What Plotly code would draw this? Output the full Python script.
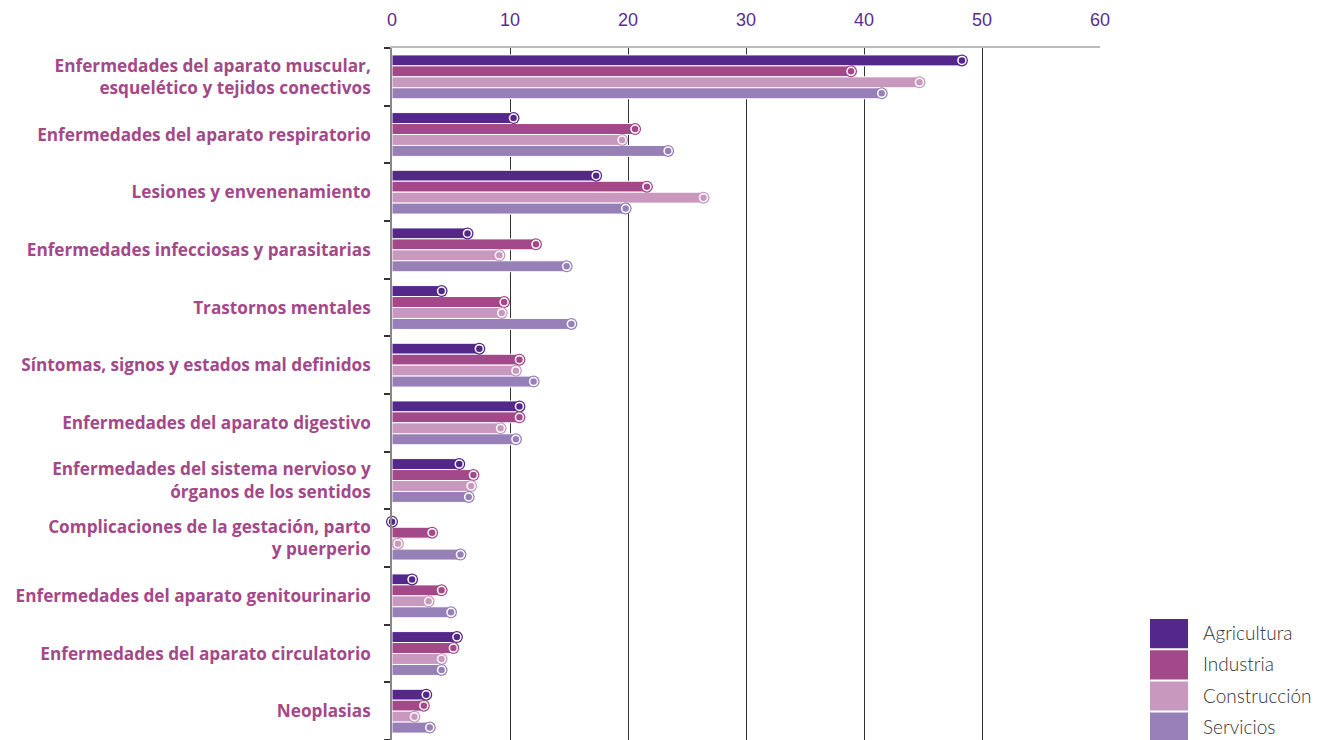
import plotly.graph_objects as go

categories = [
    "Enfermedades del aparato muscular,<br>esquelético y tejidos conectivos",
    "Enfermedades del aparato respiratorio",
    "Lesiones y envenenamiento",
    "Enfermedades infecciosas y parasitarias",
    "Trastornos mentales",
    "Síntomas, signos y estados mal definidos",
    "Enfermedades del aparato digestivo",
    "Enfermedades del sistema nervioso y<br>órganos de los sentidos",
    "Complicaciones de la gestación, parto<br>y puerperio",
    "Enfermedades del aparato genitourinario",
    "Enfermedades del aparato circulatorio",
    "Neoplasias",
]
series_names = ["Agricultura", "Industria", "Construcción", "Servicios"]
agricultura = [48.3, 10.3, 17.3, 6.4, 4.2, 7.4, 10.8, 5.7, 0.0, 1.7, 5.5, 2.9]
industria = [38.9, 20.6, 21.6, 12.2, 9.5, 10.8, 10.8, 6.9, 3.4, 4.2, 5.2, 2.7]
construccion = [44.7, 19.5, 26.4, 9.1, 9.3, 10.5, 9.2, 6.7, 0.5, 3.1, 4.2, 1.9]
servicios = [41.5, 23.4, 19.8, 14.8, 15.2, 12.0, 10.5, 6.5, 5.8, 5.0, 4.2, 3.2]
series_values = [agricultura, industria, construccion, servicios]
colors = ["#54288A", "#A3498A", "#C998BE", "#9780B8"]
x_ticks = [0, 10, 20, 30, 40, 50, 60]

# the page body has an 8px margin, so figure coordinates = screen - 8
OFF = 8
FIG_W, FIG_H = 1322 - OFF, 740 - OFF

n = len(categories)
pos = list(range(n))
w = 0.19
fig = go.Figure()

for k, (name, vals, col) in enumerate(zip(series_names, series_values, colors)):
    off = -2 * w + k * w
    fig.add_trace(go.Bar(
        y=pos, x=vals, orientation="h", name=name,
        width=w, offset=off,
        marker=dict(color=col, line=dict(color="white", width=1)),
        showlegend=False, hoverinfo="x",
    ))
    ys = [p + off + w / 2 for p in pos]
    fig.add_trace(go.Scatter(
        x=vals, y=ys, mode="markers", showlegend=False, hoverinfo="skip",
        marker=dict(size=12, color=col, line=dict(width=0)),
        cliponaxis=False,
    ))
    fig.add_trace(go.Scatter(
        x=vals, y=ys, mode="markers", showlegend=False, hoverinfo="skip",
        marker=dict(size=8, color=col, line=dict(color="white", width=1.5)),
        cliponaxis=False,
    ))

plot_l, plot_r, plot_t, plot_b = 392 - OFF, 1100 - OFF, 48 - OFF, 740 - OFF
def px_to_paper_x(px):
    return (px - OFF - plot_l) / (plot_r - plot_l)
def px_to_paper_y(py):
    return (plot_b - (py - OFF)) / (plot_b - plot_t)

# legend drawn as swatches + labels (screen pixel positions)
shapes = []
annotations = []
leg_x0, leg_x1 = 1150, 1188
leg_top = 619
step = 31.2
for k, (name, col) in enumerate(zip(series_names, colors)):
    y0 = leg_top + k * step
    y1 = y0 + step - 2
    shapes.append(dict(type="rect", xref="paper", yref="paper",
                       x0=px_to_paper_x(leg_x0), x1=px_to_paper_x(leg_x1),
                       y0=px_to_paper_y(y1), y1=px_to_paper_y(y0),
                       fillcolor=col, line=dict(width=0), layer="above"))
    annotations.append(dict(xref="paper", yref="paper",
                            x=px_to_paper_x(1201), y=px_to_paper_y((y0 + y1) / 2 - 1),
                            text=name, showarrow=False, xanchor="left", yanchor="middle",
                            font=dict(family="Lato", size=19, color="#333333", weight=300)))

fig.update_layout(
    width=FIG_W, height=FIG_H,
    margin=dict(l=plot_l, r=FIG_W - plot_r, t=plot_t, b=FIG_H - plot_b),
    plot_bgcolor="white", paper_bgcolor="white",
    barmode="overlay",
    shapes=shapes, annotations=annotations,
    showlegend=False,
)
fig.update_xaxes(
    side="top", range=[0, 60], tickvals=x_ticks,
    tickfont=dict(family="Liberation Sans, Arial", size=18, color="#5B2D90"),
    showgrid=True, gridcolor="#333333", gridwidth=1,
    showline=True, linecolor="#BBBBBB", linewidth=1.5,
    zeroline=False, ticks="", ticklabelstandoff=13,
)
fig.update_yaxes(
    tickvals=pos, ticktext=categories, range=[n - 0.5, -0.5],
    tickfont=dict(family="Open Sans", size=17.2, color="#A3498A", weight=700),
    showgrid=False, zeroline=False,
    showline=True, linecolor="#888888", linewidth=1.5,
    ticks="", ticklabelstandoff=16,
    minor=dict(tickvals=[p - 0.5 for p in pos] + [n - 0.5], ticks="outside", ticklen=6,
               tickcolor="#333333", tickwidth=1.5, showgrid=False),
)

fig.write_html("out.html")
